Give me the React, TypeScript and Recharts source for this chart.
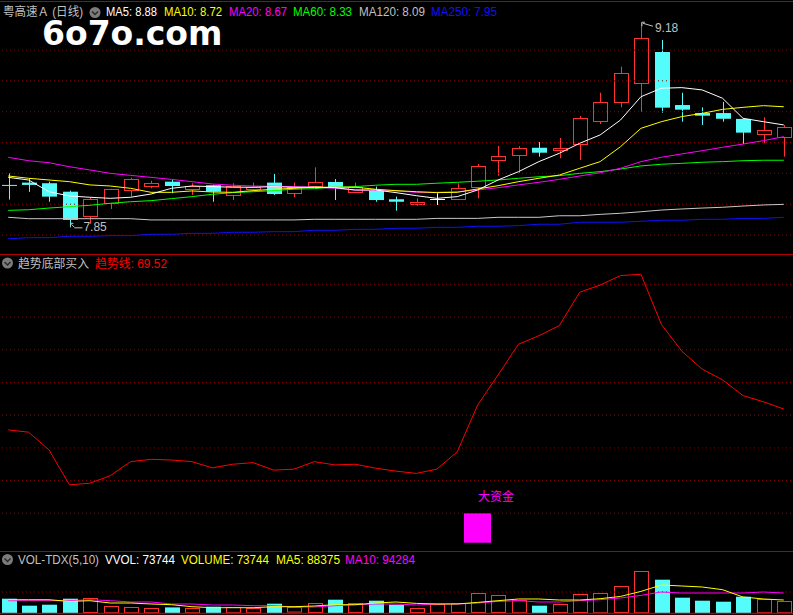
import React from 'react'
import { ComposedChart, Bar, Line, XAxis, YAxis, ReferenceLine, ReferenceDot } from 'recharts'

// 39 trading days
const days = [1, 2, 3, 4, 5, 6, 7, 8, 9, 10, 11, 12, 13, 14, 15, 16, 17, 18, 19, 20, 21, 22, 23, 24, 25, 26, 27, 28, 29, 30, 31, 32, 33, 34, 35, 36, 37, 38, 39]

const openP = [8.125, 8.14, 8.136, 8.081, 7.925, 8.006, 8.092, 8.12, 8.146, 8.099, 8.123, 8.06, 8.101, 8.14, 8.075, 8.12, 8.144, 8.081, 8.088, 8.032, 8.003, 8.034, 8.032, 8.114, 8.289, 8.321, 8.366, 8.35, 8.388, 8.54, 8.661, 8.784, 8.987, 8.643, 8.591, 8.591, 8.553, 8.453, 8.438]
const highP = [8.2, 8.17, 8.146, 8.088, 8.045, 8.1, 8.172, 8.152, 8.163, 8.136, 8.125, 8.136, 8.14, 8.196, 8.14, 8.239, 8.163, 8.14, 8.114, 8.049, 8.038, 8.071, 8.136, 8.261, 8.377, 8.377, 8.403, 8.429, 8.572, 8.723, 8.892, 9.18, 9.065, 8.723, 8.628, 8.663, 8.553, 8.564, 8.514]
const lowP = [8.03, 8.08, 8.016, 7.85, 7.872, 7.969, 8.049, 8.103, 8.071, 8.06, 8.016, 8.027, 8.088, 8.06, 8.045, 8.12, 8.027, 8.071, 8.016, 7.958, 7.99, 7.995, 8.032, 8.038, 8.185, 8.204, 8.308, 8.298, 8.287, 8.52, 8.628, 8.6, 8.593, 8.535, 8.514, 8.535, 8.39, 8.395, 8.308]
const closeP = [8.124, 8.125, 8.049, 7.898, 8.032, 8.097, 8.161, 8.138, 8.118, 8.118, 8.081, 8.118, 8.114, 8.066, 8.114, 8.144, 8.112, 8.114, 8.027, 8.016, 8.014, 8.034, 8.103, 8.248, 8.313, 8.364, 8.334, 8.364, 8.557, 8.663, 8.849, 9.076, 8.626, 8.613, 8.574, 8.554, 8.464, 8.479, 8.499]

const ma5 = [8.174, 8.157, 8.081, 8.053, 8.045, 8.038, 8.045, 8.066, 8.103, 8.118, 8.114, 8.11, 8.11, 8.114, 8.11, 8.11, 8.107, 8.092, 8.092, 8.075, 8.055, 8.038, 8.049, 8.092, 8.157, 8.211, 8.276, 8.33, 8.395, 8.449, 8.546, 8.697, 8.752, 8.756, 8.741, 8.687, 8.557, 8.535, 8.514]
const ma10 = [8.183, 8.168, 8.157, 8.146, 8.125, 8.118, 8.103, 8.077, 8.077, 8.086, 8.079, 8.077, 8.088, 8.097, 8.103, 8.11, 8.11, 8.11, 8.097, 8.088, 8.081, 8.075, 8.077, 8.099, 8.12, 8.146, 8.168, 8.189, 8.233, 8.276, 8.373, 8.492, 8.535, 8.568, 8.589, 8.615, 8.628, 8.639, 8.632]
const ma20 = [8.304, 8.282, 8.269, 8.243, 8.222, 8.2, 8.187, 8.174, 8.161, 8.146, 8.131, 8.123, 8.118, 8.116, 8.114, 8.11, 8.103, 8.092, 8.09, 8.086, 8.077, 8.077, 8.081, 8.092, 8.107, 8.125, 8.142, 8.161, 8.183, 8.204, 8.233, 8.276, 8.304, 8.326, 8.347, 8.369, 8.39, 8.412, 8.438]
const ma60 = [7.96, 7.964, 7.975, 7.984, 7.993, 8.006, 8.016, 8.023, 8.036, 8.049, 8.064, 8.075, 8.081, 8.088, 8.097, 8.101, 8.11, 8.114, 8.123, 8.129, 8.129, 8.136, 8.142, 8.149, 8.157, 8.168, 8.178, 8.185, 8.2, 8.211, 8.228, 8.248, 8.259, 8.265, 8.272, 8.276, 8.282, 8.285, 8.285]
const ma120 = [7.915, 7.906, 7.906, 7.906, 7.906, 7.906, 7.906, 7.898, 7.898, 7.898, 7.898, 7.898, 7.898, 7.898, 7.898, 7.902, 7.902, 7.902, 7.902, 7.902, 7.902, 7.908, 7.908, 7.908, 7.915, 7.915, 7.915, 7.925, 7.925, 7.934, 7.941, 7.951, 7.962, 7.969, 7.975, 7.98, 7.988, 7.995, 7.999]
const ma250 = [7.776, 7.783, 7.783, 7.792, 7.792, 7.796, 7.796, 7.805, 7.805, 7.811, 7.811, 7.818, 7.818, 7.822, 7.822, 7.831, 7.831, 7.837, 7.837, 7.844, 7.844, 7.85, 7.85, 7.857, 7.857, 7.861, 7.87, 7.87, 7.883, 7.883, 7.883, 7.889, 7.896, 7.896, 7.902, 7.902, 7.908, 7.908, 7.915]
const priceGrid = [7.8, 8.0, 8.2, 8.4, 8.6, 8.8, 9.0]

// 趋势线 indicator
const trend = [25.5, 24.8, 19.4, 8.7, 9.2, 11.5, 15.8, 16.5, 16.3, 15.8, 13.9, 15.0, 15.5, 13.2, 13.5, 15.8, 14.8, 15.0, 13.8, 12.9, 12.2, 13.5, 18.8, 33.1, 42.3, 51.7, 54.3, 57.4, 67.6, 69.8, 72.7, 73.1, 57.8, 49.6, 44.1, 40.8, 36.0, 34.1, 31.9]
const fundDay = 24
const fundRange = [-9, 0]
const trendGrid = [0, 10, 20, 30, 40, 50, 60, 70]

const vol = [68100, 34800, 39500, 68100, 71400, 34800, 30000, 25200, 26700, 25200, 30000, 30000, 25200, 44300, 26700, 47600, 63300, 47600, 58600, 39500, 23800, 44300, 47600, 95200, 85700, 63300, 34800, 42900, 90500, 96700, 128600, 201400, 158600, 72900, 58600, 53800, 77600, 68100, 58600]
const vma5 = [63300, 63300, 63300, 55200, 58600, 47600, 47600, 42900, 39500, 30000, 25200, 25200, 25200, 30000, 30000, 33300, 39500, 39500, 47600, 52400, 45700, 42900, 42900, 50500, 58600, 66700, 66700, 61900, 61900, 68100, 79000, 102900, 133300, 128600, 123800, 111000, 76200, 66700, 61900]
const vma10 = [58600, 58600, 58600, 58600, 63300, 58600, 52400, 52400, 42900, 42900, 38100, 38100, 34800, 34800, 28600, 28600, 34800, 39500, 42900, 42900, 38100, 42900, 42900, 47600, 55200, 58600, 52400, 52400, 58600, 63300, 71400, 83800, 100000, 95200, 95200, 95200, 95200, 100000, 95200]
const volGrid = [100000]

const UP = '#ff3232'
const DOWN = '#54fcfc'
const GRID = '#8b0000'
const SEP = '#b00000'
const FONT = '"Liberation Sans", "Noto Sans CJK SC", sans-serif'

const rows = days.map((d, i) => ({
  day: d,
  open: openP[i],
  high: highP[i],
  low: lowP[i],
  close: closeP[i],
  range: [lowP[i], highP[i]],
  ma5: ma5[i],
  ma10: ma10[i],
  ma20: ma20[i],
  ma60: ma60[i],
  ma120: ma120[i],
  ma250: ma250[i],
  trend: trend[i],
  fund: d === fundDay ? fundRange : null,
  vol: vol[i],
  vma5: vma5[i],
  vma10: vma10[i],
}))

const maxHigh = Math.max(...highP)
const minLow = Math.min(...lowP)
const maxDay = days[highP.indexOf(maxHigh)]
const minDay = days[lowP.indexOf(minLow)]

function Candle(props: any) {
  const { x, y, width, height, payload } = props
  if (height == null || !payload) return null
  const { open, close, high, low } = payload
  const cx = Math.round(x + width / 2)
  const py = (v: number) => y + ((high - v) / (high - low)) * height
  const top = py(Math.max(open, close))
  const bot = py(Math.min(open, close))
  if (close > open) {
    const t = Math.round(top)
    const b = Math.round(bot)
    return (
      <g>
        <line x1={cx + 0.5} x2={cx + 0.5} y1={y} y2={t} stroke={UP} />
        <line x1={cx + 0.5} x2={cx + 0.5} y1={b} y2={y + height} stroke={UP} />
        <rect x={cx - 6.5} y={t + 0.5} width={14} height={Math.max(1, b - t)} fill="#000" stroke={UP} />
      </g>
    )
  }
  if (close === open) {
    const yy = Math.round(top) + 0.5
    return (
      <g stroke="#ffffff">
        <line x1={cx + 0.5} x2={cx + 0.5} y1={y} y2={y + height} />
        <line x1={cx - 7} x2={cx + 8} y1={yy} y2={yy} />
      </g>
    )
  }
  return (
    <g>
      <line x1={cx + 0.5} x2={cx + 0.5} y1={y} y2={y + height} stroke={DOWN} />
      <rect x={cx - 7} y={top} width={15} height={Math.max(1, bot - top)} fill={DOWN} />
    </g>
  )
}

function VolBar(props: any) {
  const { x, y, width, height, payload } = props
  if (height == null || !payload) return null
  const cx = Math.round(x + width / 2)
  if (payload.close >= payload.open) {
    return <rect x={cx - 6.5} y={Math.round(y) + 0.5} width={14} height={Math.max(1, height - 1)} fill="#000" stroke={UP} />
  }
  return <rect x={cx - 7} y={y} width={15} height={height} fill={DOWN} />
}

// STICKLINE 大资金: wider than a candle, so drawn from the bar's centre
function FundBar(props: any) {
  const { x, y, width, height } = props
  if (height == null) return null
  const cx = x + width / 2
  return (
    <g>
      <rect x={Math.round(cx - 13.5)} y={y} width={27} height={height} fill="#ff00ff" />
      <text x={cx} y={y - 16} fill="#ff00ff" fontSize={12} fontFamily={FONT} dominantBaseline="central">
        大资金
      </text>
    </g>
  )
}

function HighMark(props: any) {
  const { cx, cy } = props
  return (
    <g stroke="#c0c0c0" fill="none">
      <polyline points={`${cx + 1},${cy + 4} ${cx + 1},${cy} ${cx + 4},${cy}`} />
      <line x1={cx + 2} y1={cy + 1} x2={cx + 12} y2={cy + 4} />
      <text x={cx + 14} y={cy + 6} fill="#c0c0c0" stroke="none" fontSize={12} fontFamily={FONT} dominantBaseline="central">
        {maxHigh.toFixed(2)}
      </text>
    </g>
  )
}

function LowMark(props: any) {
  const { cx, cy } = props
  return (
    <g stroke="#c0c0c0" fill="none">
      <polyline points={`${cx + 1},${cy - 1} ${cx + 1},${cy - 4} ${cx + 4},${cy - 4}`} />
      <line x1={cx + 2} y1={cy - 3} x2={cx + 5} y2={cy} />
      <line x1={cx + 5} y1={cy + 0.5} x2={cx + 13} y2={cy + 0.5} />
      <text x={cx + 14} y={cy} fill="#c0c0c0" stroke="none" fontSize={12} fontFamily={FONT} dominantBaseline="central">
        {minLow.toFixed(2)}
      </text>
    </g>
  )
}

function Icon({ x, y }: { x: number; y: number }) {
  return (
    <g>
      <circle cx={x} cy={y} r={5.5} fill="#7c7c7c" />
      <polyline points={`${x - 3},${y - 1} ${x},${y + 2} ${x + 3},${y - 1}`} stroke="#2a2a2a" strokeWidth={1.5} fill="none" />
    </g>
  )
}

// header texts: [text, x, width, colour]
const priceHead: [string, number, number, string][] = [
  ['粤高速Ａ (日线)', 3, 80, '#c0c0c0'],
  ['MA5: 8.88', 106, 51, '#ffffff'],
  ['MA10: 8.72', 164, 58, '#ffff00'],
  ['MA20: 8.67', 229, 58, '#ff00ff'],
  ['MA60: 8.33', 293, 59, '#00ff00'],
  ['MA120: 8.09', 359, 66, '#c0c0c0'],
  ['MA250: 7.95', 431, 66, '#1010ff'],
]
const trendHead: [string, number, number, string][] = [
  ['趋势底部买入', 18, 71, '#c0c0c0'],
  ['趋势线: 69.52', 95, 72, '#ff0000'],
]
const volHead: [string, number, number, string][] = [
  ['VOL-TDX(5,10)', 18, 81, '#c0c0c0'],
  ['VVOL: 73744', 105, 70, '#ffffff'],
  ['VOLUME: 73744', 181, 88, '#ffff00'],
  ['MA5: 88375', 276, 64, '#ffff00'],
  ['MA10: 94284', 345, 70, '#ff00ff'],
]

function Head({ items, y }: { items: [string, number, number, string][]; y: number }) {
  return (
    <>
      {items.map(([t, x, w, c]) => (
        <text key={t} x={x} y={y} fill={c} textLength={w} lengthAdjust="spacingAndGlyphs">
          {t}
        </text>
      ))}
    </>
  )
}

const lineProps = { dot: false, activeDot: false, isAnimationActive: false, strokeWidth: 1, type: 'linear' as const }
const margin = { top: 0, right: 0, bottom: 0, left: 0 }

export default function App() {
  return (
    <div style={{ position: 'absolute', left: 0, top: 0, width: 793, height: 615, background: '#000', overflow: 'hidden' }}>
      {/* K线 + 均线 */}
      <div style={{ position: 'absolute', left: -2, top: 18 }}>
        <ComposedChart width={796} height={235} data={rows} margin={margin}>
          <XAxis dataKey="day" hide />
          <YAxis hide domain={[7.6835, 9.2075]} allowDataOverflow />
          {priceGrid.map((v) => (
            <ReferenceLine key={v} y={v} stroke={GRID} strokeDasharray="1 3" />
          ))}
          <Bar dataKey="range" barSize={15} shape={Candle} isAnimationActive={false} />
          <Line dataKey="ma250" stroke="#1010ff" {...lineProps} />
          <Line dataKey="ma120" stroke="#c8c8c8" {...lineProps} />
          <Line dataKey="ma60" stroke="#00ff00" {...lineProps} />
          <Line dataKey="ma20" stroke="#ff00ff" {...lineProps} />
          <Line dataKey="ma10" stroke="#ffff00" {...lineProps} />
          <Line dataKey="ma5" stroke="#ffffff" {...lineProps} />
          <ReferenceDot x={maxDay} y={maxHigh} r={0} shape={HighMark} />
          <ReferenceDot x={minDay} y={minLow} r={0} shape={LowMark} />
        </ComposedChart>
      </div>

      {/* 趋势底部买入 */}
      <div style={{ position: 'absolute', left: -2, top: 256 }}>
        <ComposedChart width={796} height={291} data={rows} margin={margin}>
          <XAxis dataKey="day" hide />
          <YAxis hide domain={[-10.31, 78.69]} allowDataOverflow />
          {trendGrid.map((v) => (
            <ReferenceLine key={v} y={v} stroke={GRID} strokeDasharray="1 3" />
          ))}
          <Bar dataKey="fund" barSize={15} shape={FundBar} isAnimationActive={false} />
          <Line dataKey="trend" stroke="#ff0000" {...lineProps} />
        </ComposedChart>
      </div>

      {/* VOL-TDX */}
      <div style={{ position: 'absolute', left: -2, top: 552 }}>
        <ComposedChart width={796} height={61} data={rows} margin={margin}>
          <XAxis dataKey="day" hide />
          <YAxis hide domain={[0, 290500]} allowDataOverflow />
          {volGrid.map((v) => (
            <ReferenceLine key={v} y={v} stroke={GRID} strokeDasharray="1 3" />
          ))}
          <Bar dataKey="vol" barSize={15} shape={VolBar} isAnimationActive={false} />
          <Line dataKey="vma10" stroke="#ff00ff" {...lineProps} />
          <Line dataKey="vma5" stroke="#ffff00" {...lineProps} />
        </ComposedChart>
      </div>

      <svg width={793} height={615} style={{ position: 'absolute', left: 0, top: 0, pointerEvents: 'none' }}>
        <g stroke={SEP} strokeWidth={1}>
          <line x1={0} x2={793} y1={1.5} y2={1.5} />
          <line x1={0} x2={793} y1={254.5} y2={254.5} />
          <line x1={0} x2={793} y1={551.5} y2={551.5} />
          <line x1={0} x2={793} y1={613.5} y2={613.5} strokeWidth={1.5} />
        </g>
        <g fontFamily={FONT} fontSize={12} dominantBaseline="central">
          <Head items={priceHead} y={12} />
          <Head items={trendHead} y={263.5} />
          <Head items={volHead} y={560} />
        </g>
        <Icon x={95} y={12.5} />
        <Icon x={7.5} y={263} />
        <Icon x={7.5} y={559.5} />
      </svg>

      {/* site watermark; tight line box so it sits under the header row */}
      <div
        style={{
          position: 'absolute',
          left: 42,
          top: 22,
          height: 24,
          lineHeight: '24px',
          fontSize: 33,
          fontWeight: 'bold',
          fontFamily: '"DejaVu Sans", sans-serif',
          color: '#ffffff',
          whiteSpace: 'nowrap',
          pointerEvents: 'none',
        }}
      >
        6o7o.com
      </div>
    </div>
  )
}
